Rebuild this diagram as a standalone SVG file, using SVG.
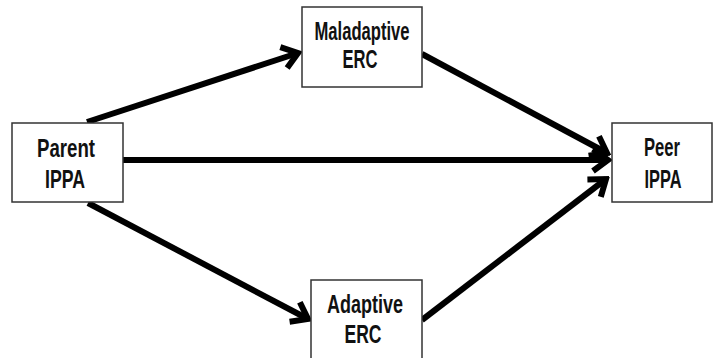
<svg xmlns="http://www.w3.org/2000/svg" width="713" height="358" viewBox="0 0 713 358">
<style>
.box{fill:#fff;stroke:#333;stroke-width:1.5}
.lbl{font-family:"Liberation Sans",Arial,sans-serif;font-weight:bold;font-size:25px;fill:#111;text-anchor:middle}
.edge{stroke:#000;stroke-width:6;fill:none}
</style>
<defs>
<marker id="ah" markerUnits="userSpaceOnUse" viewBox="-20 -14 24 28" markerWidth="24" markerHeight="28" refX="0" refY="0" orient="auto">
<path d="M-15,-11 L0,0 L-15,11" fill="none" stroke="#000" stroke-width="6" stroke-linejoin="miter"/>
</marker>
</defs>
<rect width="713" height="358" fill="#fff"/>
<g id="connectors">
<line class="edge" x1="87" y1="122" x2="298" y2="53" marker-end="url(#ah)"/>
<line class="edge" x1="422" y1="54" x2="607" y2="153" marker-end="url(#ah)"/>
<line class="edge" x1="123" y1="160" x2="608" y2="160" marker-end="url(#ah)"/>
<line class="edge" x1="88" y1="203" x2="308" y2="319" marker-end="url(#ah)"/>
<line class="edge" x1="422" y1="320" x2="606" y2="179" marker-end="url(#ah)"/>
</g>
<g id="parent">
<rect class="box" x="12" y="123" width="111" height="79"/>
<text class="lbl" x="66" y="157" textLength="58" lengthAdjust="spacingAndGlyphs">Parent</text>
<text class="lbl" x="65" y="188" textLength="40" lengthAdjust="spacingAndGlyphs">IPPA</text>
</g>
<g id="maladaptive">
<rect class="box" x="302" y="7" width="120" height="80"/>
<text class="lbl" x="362" y="40" textLength="95" lengthAdjust="spacingAndGlyphs">Maladaptive</text>
<text class="lbl" x="360" y="68" textLength="35" lengthAdjust="spacingAndGlyphs">ERC</text>
</g>
<g id="peer">
<rect class="box" x="612" y="123" width="100" height="79"/>
<text class="lbl" x="662" y="156" textLength="36" lengthAdjust="spacingAndGlyphs">Peer</text>
<text class="lbl" x="663" y="188" textLength="37" lengthAdjust="spacingAndGlyphs">IPPA</text>
</g>
<g id="adaptive">
<rect class="box" x="311" y="280" width="111" height="82"/>
<text class="lbl" x="365" y="313" textLength="76" lengthAdjust="spacingAndGlyphs">Adaptive</text>
<text class="lbl" x="363" y="343" textLength="37" lengthAdjust="spacingAndGlyphs">ERC</text>
</g>
</svg>
